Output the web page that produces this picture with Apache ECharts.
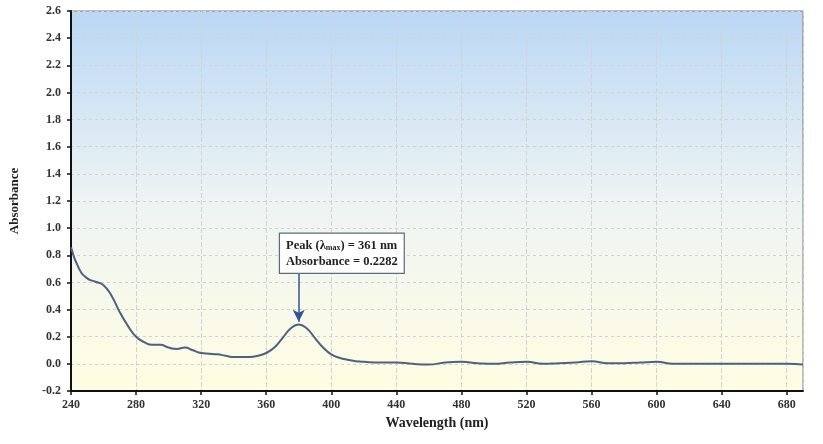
<!DOCTYPE html>
<html>
<head>
<meta charset="utf-8">
<script src="https://cdn.jsdelivr.net/npm/echarts@6/dist/echarts.min.js"></script>
<style>html,body{margin:0;padding:0;background:#fff}#c{width:823px;height:444px}</style>
</head>
<body>
<div id="c"></div>
<script>
const wavelengths = [240,245,250,255,260,265,270,275,280,285,290,295,300,305,310,315,320,325,330,335,340,345,350,355,360,365,370,375,380,385,390,395,400,405,410,415,420,430,440,450,460,470,480,490,500,510,520,530,540,550,560,570,580,590,600,610,620,630,640,650,660,670,680,690];
const absorbance = [0.86,0.70,0.63,0.605,0.58,0.50,0.38,0.28,0.20,0.16,0.14,0.14,0.12,0.11,0.12,0.10,0.08,0.075,0.07,0.06,0.05,0.05,0.05,0.06,0.08,0.12,0.19,0.26,0.29,0.26,0.19,0.12,0.07,0.045,0.03,0.02,0.015,0.01,0.01,0.0,-0.005,0.01,0.015,0.005,0.0,0.01,0.015,0.0,0.005,0.01,0.02,0.005,0.005,0.01,0.015,0.0,0.0,0.0,0.0,0.0,0.0,0.0,0.0,-0.005];
const xTicks = {min:240, max:690, interval:40};
const yTicks = {min:-0.2, max:2.6, interval:0.2};
const peakLabel = ['Peak (λ{sub|max}) = 361 nm', 'Absorbance = 0.2282'];
const arrowFrom = [380, 0.67];
const arrowTo = [380, 0.31];
const boxAt = [368.5, 0.815];

const serif = '"Liberation Serif","Times New Roman",serif';
const chart = echarts.init(document.getElementById('c'));
chart.setOption({
  animation:false,
  grid:{left:71,right:20,top:11,bottom:53,show:true,borderColor:'#7a7a7a',borderWidth:1,
    backgroundColor:{type:'linear',x:0,y:0,x2:0,y2:1,colorStops:[
      {offset:0,color:'#bad7f5'},{offset:0.5,color:'#eef4f3'},{offset:1,color:'#fffde2'}]}},
  xAxis:{type:'value',min:xTicks.min,max:xTicks.max,interval:xTicks.interval,
    name:'Wavelength (nm)',nameLocation:'middle',nameGap:23,
    nameTextStyle:{fontFamily:serif,fontWeight:'bold',fontSize:14,color:'#222'},
    axisLine:{onZero:false,lineStyle:{color:'#111',width:2}},
    axisTick:{show:true,length:4,lineStyle:{color:'#111',width:1.5}},
    axisLabel:{fontFamily:serif,fontWeight:'bold',fontSize:12,color:'#333',margin:8,showMaxLabel:false},
    splitLine:{show:true,lineStyle:{color:'#d0d4d6',width:1,type:[5,2]}}},
  yAxis:{type:'value',min:yTicks.min,max:yTicks.max,interval:yTicks.interval,
    name:'Absorbance',nameLocation:'middle',nameGap:50,
    nameTextStyle:{fontFamily:serif,fontWeight:'bold',fontSize:13,color:'#222'},
    axisLine:{show:true,onZero:false,lineStyle:{color:'#111',width:2}},
    axisTick:{show:true,length:4,lineStyle:{color:'#111',width:1.5}},
    axisLabel:{fontFamily:serif,fontWeight:'bold',fontSize:12,color:'#333',margin:10,
      formatter:v=>v.toFixed(1)},
    splitLine:{show:true,lineStyle:{color:'#cfd3d6',width:1,type:[3,3]}}},
  series:[{
    type:'line',smooth:true,showSymbol:false,
    data:wavelengths.map((w,i)=>[w,absorbance[i]]),
    lineStyle:{color:'#4b6282',width:2},
    markLine:{silent:true,symbol:['none','arrow'],symbolSize:[9,12],
      lineStyle:{color:'#2f5597',width:1.5,type:'solid'},label:{show:false},
      data:[[{coord:arrowFrom},{coord:arrowTo}]]},
    markPoint:{silent:true,symbol:'rect',symbolSize:1,itemStyle:{color:'rgba(0,0,0,0)'},
      label:{show:true,position:'inside',formatter:peakLabel.join('\n'),
        backgroundColor:'#ffffff',borderColor:'#5b6b82',borderWidth:1.2,padding:[4,6,3,6],
        fontFamily:serif,fontWeight:'bold',fontSize:12.5,color:'#222',lineHeight:16,align:'left',
        rich:{sub:{fontFamily:serif,fontWeight:'bold',fontSize:8,color:'#222',padding:[5,0,0,0]}}},
      data:[{coord:boxAt}]}
  }]
});
</script>
</body>
</html>
